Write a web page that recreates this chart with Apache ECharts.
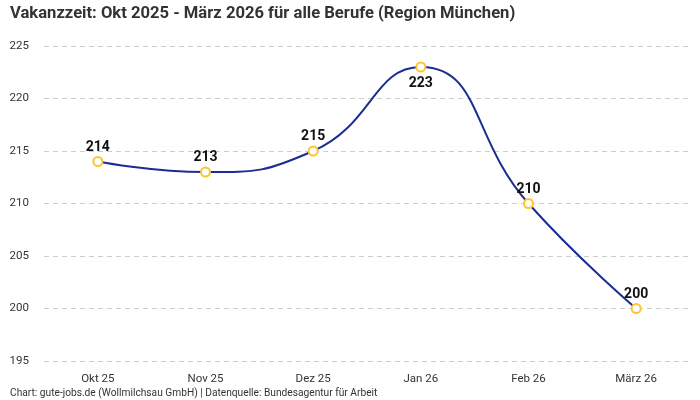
<!DOCTYPE html>
<html><head><meta charset="utf-8">
<script src="https://cdn.jsdelivr.net/npm/echarts@6/dist/echarts.min.js"></script>
<style>html,body{margin:0;padding:0;background:#fff}#c{width:700px;height:400px}</style>
</head><body><div id="c"></div>
<script>
const categories = ['Okt 25','Nov 25','Dez 25','Jan 26','Feb 26','März 26'];
const values = [214, 213, 215, 223, 210, 200];
const labelPos = ['top','top','top','bottom','top','top'];
const chart = echarts.init(document.getElementById('c'));
chart.setOption({
  animation: false,
  textStyle: {fontFamily: 'Roboto'},
  title: {
    text: 'Vakanzzeit: Okt 2025 - März 2026 für alle Berufe (Region München)',
    left: 5, top: 0,
    textStyle: {fontSize: 16.6, fontWeight: 'bold', color: '#333', fontFamily: 'Roboto'}
  },
  graphic: [{
    type: 'text', left: 10, top: 388,
    style: {text: 'Chart: gute-jobs.de (Wollmilchsau GmbH) | Datenquelle: Bundesagentur für Arbeit', fontSize: 10.2, fill: '#333', fontFamily: 'Roboto'}
  }],
  grid: {left: 44, right: 10, top: 46, bottom: 39, containLabel: false, outerBoundsMode: 'none'},
  xAxis: {
    type: 'category', data: categories, boundaryGap: true,
    axisLine: {show: false}, axisTick: {show: false},
    axisLabel: {color: '#333', fontSize: 11.5, margin: 12}
  },
  yAxis: {
    type: 'value', min: 195, max: 225, interval: 5,
    axisLine: {show: false}, axisTick: {show: false},
    axisLabel: {color: '#333', fontSize: 11.5, margin: 15},
    splitLine: {lineStyle: {type: [5,4], color: '#ccc'}}
  },
  series: [{
    type: 'line', smooth: true,
    data: values.map((v, i) => ({value: v, label: {position: labelPos[i], distance: labelPos[i] === 'bottom' ? 4 : 2}})),
    symbol: 'circle', symbolSize: 9,
    itemStyle: {color: '#fff', borderColor: '#FFC52E', borderWidth: 2},
    lineStyle: {color: '#1B2C94', width: 2},
    label: {show: true, fontSize: 14, fontWeight: 'bold', color: '#111', distance: 2}
  }]
});
</script></body></html>
